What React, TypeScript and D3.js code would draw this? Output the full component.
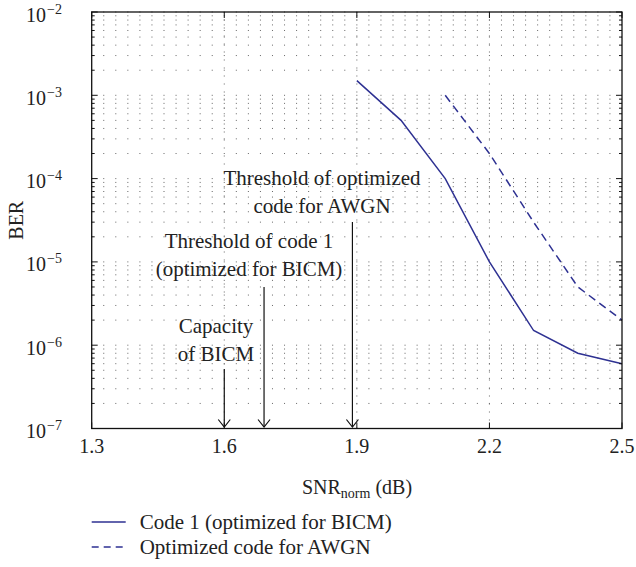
import * as d3 from "d3";

// BER vs SNR_norm curves
const snrCode1 = [1.9, 2.0, 2.1, 2.2, 2.3, 2.4, 2.5];
const berCode1 = [1.5e-3, 5e-4, 1e-4, 1e-5, 1.5e-6, 8e-7, 6e-7];
const snrAwgn = [2.1, 2.2, 2.3, 2.4, 2.5];
const berAwgn = [1e-3, 2e-4, 3e-5, 5e-6, 2e-6];

const xTicks = [1.3, 1.6, 1.9, 2.2, 2.5];
const yExponents = [-7, -6, -5, -4, -3, -2];

// arrows pointing to the x axis, with their text lines
const arrowSnr = [1.6, 1.69, 1.89];
const arrowTop = [369, 287, 222];
const noteLines = [
  ["Capacity", "of BICM"],
  ["Threshold of code 1", "(optimized for BICM)"],
  ["Threshold of optimized", "code for AWGN"],
];
const noteX = [216, 249, 322];
const noteBaseline = [333, 248, 185];

const legendLabels = ["Code 1 (optimized for BICM)", "Optimized code for AWGN"];

const width = 636;
const height = 567;
const margin = { top: 12, right: 14, bottom: 138.5, left: 91.7 };
const blue = "#2e3192";
const font = '"Liberation Serif", "Times New Roman", Times, serif';

export default function App() {
  const x = d3.scaleLinear().domain([1.3, 2.5]).range([margin.left, width - margin.right]);
  const y = d3.scaleLog().domain([1e-7, 1e-2]).range([height - margin.bottom, margin.top]);
  const x0 = x.range()[0], x1 = x.range()[1];
  const y0 = y.range()[0], y1 = y.range()[1];

  // dotted minor grid: 11 columns per 0.3 dB, log rows 1..9 per decade
  const colStep = 0.3 / 11;
  const spacing = x(1.3 + colStep) - x(1.3);
  const rows: number[] = [];
  for (let e = -7; e < -2; e++) {
    for (let m = 1; m < 10; m++) rows.push(m * Math.pow(10, e));
  }
  rows.push(1e-2);
  const minorTicks = rows.filter((v) => Math.abs(Math.log10(v) - Math.round(Math.log10(v))) > 1e-9);

  const line = d3.line<[number, number]>().x((d) => x(d[0])).y((d) => y(d[1]));
  const code1 = line(snrCode1.map((s, i) => [s, berCode1[i]]));
  const awgn = line(snrAwgn.map((s, i) => [s, berAwgn[i]]));

  return (
    <svg width={width} height={height}
      style={{ position: "absolute", left: 0, top: 0, background: "#fff", fontFamily: font }}>
      {/* grid */}
      <g stroke="#666" strokeWidth={1}>
        {rows.map((v, i) => (
          <line key={"r" + i} x1={x0 - 0.5} x2={x1} y1={y(v)} y2={y(v)}
            strokeDasharray={`1 ${spacing - 1}`} />
        ))}
        {xTicks.slice(1, -1).map((t) => (
          <line key={"v" + t} x1={x(t)} x2={x(t)} y1={y0} y2={y1} strokeDasharray="1 7" />
        ))}
      </g>

      {/* curves */}
      <path d={code1 ?? ""} fill="none" stroke={blue} strokeWidth={1.5} />
      <path d={awgn ?? ""} fill="none" stroke={blue} strokeWidth={1.5} strokeDasharray="8 5" />

      {/* arrows */}
      <g stroke="#111" strokeWidth={1.2} fill="none">
        {arrowSnr.map((s, i) => (
          <g key={"a" + i}>
            <line x1={x(s)} x2={x(s)} y1={arrowTop[i]} y2={y0 - 1.5} />
            <path d={`M${x(s) - 6},${y0 - 9} L${x(s)},${y0 - 1.5} L${x(s) + 6},${y0 - 9}`} />
          </g>
        ))}
      </g>
      <g fontSize={21} fill="#222" textAnchor="middle" style={{ fontFamily: font }}>
        {noteLines.map((ls, i) =>
          ls.map((t, j) => (
            <text key={"n" + i + j} x={noteX[i]} y={noteBaseline[i] + j * 27.5}>{t}</text>
          ))
        )}
      </g>

      {/* axes box and ticks */}
      <rect x={x0} y={y1} width={x1 - x0} height={y0 - y1} fill="none" stroke="#111" strokeWidth={1.3} />
      <g stroke="#111" strokeWidth={1}>
        {yExponents.map((e) => (
          <g key={"yt" + e}>
            <line x1={x0} x2={x0 + 6} y1={y(Math.pow(10, e))} y2={y(Math.pow(10, e))} />
            <line x1={x1} x2={x1 - 6} y1={y(Math.pow(10, e))} y2={y(Math.pow(10, e))} />
          </g>
        ))}
        {minorTicks.map((v, i) => (
          <g key={"ym" + i}>
            <line x1={x0} x2={x0 + 3} y1={y(v)} y2={y(v)} />
            <line x1={x1} x2={x1 - 3} y1={y(v)} y2={y(v)} />
          </g>
        ))}
        {xTicks.map((t) => (
          <g key={"xt" + t}>
            <line x1={x(t)} x2={x(t)} y1={y0} y2={y0 - 6} />
            <line x1={x(t)} x2={x(t)} y1={y1} y2={y1 + 6} />
          </g>
        ))}
      </g>

      {/* tick labels */}
      <g fontSize={20} fill="#222" style={{ fontFamily: font }}>
        {xTicks.map((t) => (
          <text key={"xl" + t} x={x(t)} y={y0 + 24} textAnchor="middle">{d3.format(".1f")(t)}</text>
        ))}
        {yExponents.map((e) => (
          <text key={"yl" + e} x={62} y={y(Math.pow(10, e)) + 9.5} textAnchor="end">
            10
            <tspan dx={1} dy={-8} fontSize={14}>{"\u2212" + Math.abs(e)}</tspan>
          </text>
        ))}
      </g>

      {/* axis titles */}
      <text x={357} y={494} textAnchor="middle" fontSize={20} fill="#222" style={{ fontFamily: font }}>
        SNR<tspan fontSize={14} dy={4}>norm</tspan>
        <tspan dy={-4}> (dB)</tspan>
      </text>
      <text transform={`translate(23,${(y0 + y1) / 2}) rotate(-90)`} textAnchor="middle" fontSize={20}
        fill="#222" style={{ fontFamily: font }}>
        BER
      </text>

      {/* legend */}
      {legendLabels.map((l, i) => (
        <g key={"lg" + i} transform={`translate(${x0},${522 + i * 25})`}>
          <line x1={0} x2={34} y1={0} y2={0} stroke={blue} strokeWidth={1.3}
            strokeDasharray={i === 1 ? "7 5" : undefined} />
          <text x={48} y={7} fontSize={21} fill="#222" style={{ fontFamily: font }}>{l}</text>
        </g>
      ))}
    </svg>
  );
}
